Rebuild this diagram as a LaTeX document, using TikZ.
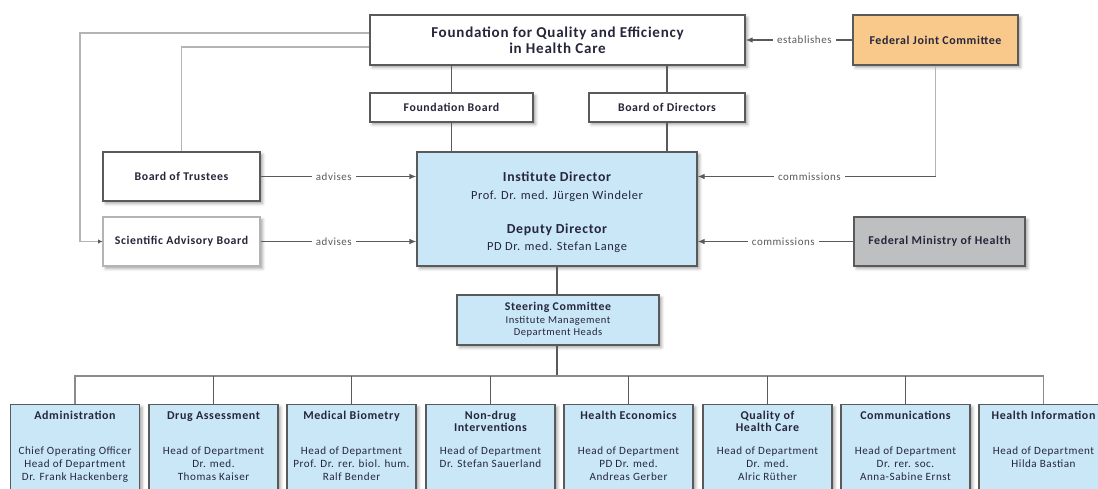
\documentclass[tikz,border=0pt]{standalone}
\usepackage{fontspec}
\setmainfont[LetterSpace=5]{Carlito}
\usetikzlibrary{arrows.meta,shadows.blur}
\definecolor{iqblue}{HTML}{C9E7F7}
\definecolor{gorange}{HTML}{F9C98B}
\definecolor{mgray}{HTML}{BEBFC1}
\definecolor{lnk}{HTML}{5A5A5A}
\definecolor{lnkl}{HTML}{B4B4B4}
\definecolor{txt}{HTML}{26263A}

\tikzset{
  box/.style={draw=lnk, line width=0.8pt, fill=white, align=center, text=txt, inner sep=2pt,
    blur shadow={shadow xshift=1.8pt, shadow yshift=-1.8pt, shadow blur radius=2pt, shadow opacity=35}},
  bluebox/.style={box, fill=iqblue},
  dept/.style={bluebox, anchor=north, minimum width=3.225cm, minimum height=2.5cm},
  depttitle/.style={anchor=north, align=center, inner sep=0pt, text=txt,
    font=\bfseries\fontsize{8.5}{8.6}\selectfont},
  deptbody/.style={anchor=north, align=center, inner sep=0pt, text=txt,
    font=\fontsize{7.9}{9.2}\selectfont},
  conn/.style={draw=lnk, line width=1.4pt},
  bus/.style={draw=lnk!70, line width=1.1pt},
  back/.style={draw=lnkl, line width=1.4pt},
  rel/.style={draw=lnk, line width=0.9pt, -{Latex[length=5pt,width=4pt]}},
  lbl/.style={fill=white, text=lnk, inner sep=3pt, font=\fontsize{7.8}{8}\selectfont},
}

% department box: name, x, title, head
\newcommand{\dept}[4]{%
  \node[dept] (#1) at (#2,404) {};
  \node[depttitle] at ([yshift=-5pt]#1.north) {#3};
  \node[deptbody] at ([yshift=-30pt]#1.north) {#4};
}

\begin{document}
\begin{tikzpicture}[x=0.025cm, y=-0.025cm]
  \useasboundingbox (0,0) rectangle (1098,488);
  \clip (0,0) rectangle (1098,488);

  % foundation and its boards
  \node[box, minimum width=9.375cm, minimum height=1.25cm,
    font=\bfseries\fontsize{10.7}{11.5}\selectfont] (found) at (557.5,40)
    {Foundation for Quality and Efficiency\\in Health Care};
  \node[box, fill=gorange, minimum width=4.125cm, minimum height=1.25cm,
    font=\bfseries\fontsize{8.5}{10}\selectfont] (gba) at (935.5,40) {Federal Joint Committee};
  \node[box, minimum width=4.075cm, minimum height=0.725cm,
    font=\bfseries\fontsize{8.4}{9}\selectfont] (fboard) at (451.5,107.5) {Foundation Board};
  \node[box, minimum width=3.9cm, minimum height=0.725cm,
    font=\bfseries\fontsize{8.4}{9}\selectfont] (bdir) at (667,107.5) {Board of Directors};

  % institute management
  \node[bluebox, minimum width=7cm, minimum height=2.85cm, font=\fontsize{8.8}{12.3}\selectfont] (inst) at (557,209)
    {\rule{0pt}{12pt}{\bfseries\fontsize{9.8}{12.3}\selectfont Institute Director}\\Prof. Dr. med. Jürgen Windeler\\[12pt]
     {\bfseries\fontsize{9.8}{12.3}\selectfont Deputy Director}\\PD Dr. med. Stefan Lange};
  \node[box, minimum width=3.925cm, minimum height=1.225cm,
    font=\bfseries\fontsize{8.4}{9}\selectfont] (trust) at (181.5,176.5) {Board of Trustees};
  \node[box, draw=lnkl, minimum width=3.925cm, minimum height=1.225cm,
    font=\bfseries\fontsize{8.4}{9}\selectfont] (sab) at (181.5,241.5) {Scientific Advisory Board};
  \node[box, fill=mgray, minimum width=4.275cm, minimum height=1.225cm,
    font=\bfseries\fontsize{8.5}{10}\selectfont] (bmg) at (939.5,241.5) {Federal Ministry of Health};
  \node[bluebox, minimum width=5.05cm, minimum height=1.25cm, font=\fontsize{7.5}{9}\selectfont] (steer) at (558,320)
    {{\bfseries\fontsize{8.4}{9}\selectfont Steering Committee}\\Institute Management\\Department Heads};

  % departments
  \dept{adm}{75}{Administration}{Chief Operating Officer\\Head of Department\\Dr. Frank Hackenberg}
  \dept{drug}{213.5}{Drug Assessment}{Head of Department\\Dr. med.\\Thomas Kaiser}
  \dept{biom}{351.5}{Medical Biometry}{Head of Department\\Prof. Dr. rer. biol. hum.\\Ralf Bender}
  \dept{ndrug}{490.5}{Non-drug\\Interventions}{Head of Department\\Dr. Stefan Sauerland}
  \dept{heco}{628.5}{Health Economics}{Head of Department\\PD Dr. med.\\Andreas Gerber}
  \dept{qual}{767.5}{Quality of\\Health Care}{Head of Department\\Dr. med.\\Alric Rüther}
  \dept{comm}{905.5}{Communications}{Head of Department\\Dr. rer. soc.\\Anna-Sabine Ernst}
  \dept{hinfo}{1043.5}{Health Information}{Head of Department\\Hilda Bastian}

  % hierarchy lines
  \draw[conn] (found.south -| fboard) -- (fboard.north);
  \draw[conn] (found.south -| bdir) -- (bdir.north);
  \draw[conn] (fboard.south) -- (inst.north -| fboard);
  \draw[conn] (bdir.south) -- (inst.north -| bdir);
  \draw[conn] (inst.south) -- (steer.north -| inst);
  \coordinate (bus) at (557,376);
  \draw[conn] (steer.south -| bus) -- (bus);
  \draw[bus] (adm.north) -- (adm.north |- bus) -- (hinfo.north |- bus) -- (hinfo.north);
  \foreach \d in {drug,biom,ndrug,heco,qual,comm}
    \draw[conn] (\d.north) -- (\d.north |- bus);

  % appointments by the foundation
  \draw[back] ([yshift=5pt]found.west) -- ++(-289,0) |- (sab.west);
  \draw[lnk, -{Latex[length=3pt,width=3pt]}] ([xshift=-2pt]sab.west) -- (sab.west);
  \draw[back] ([yshift=-5pt]found.west) -| (trust.north);

  % relations
  \draw[rel] (gba.west) -- node[lbl, pos=0.45] {establishes} (found.east);
  \draw[rel] (trust.east) -- node[lbl, pos=0.47] {advises} (inst.west |- trust.east);
  \draw[rel] (sab.east) -- node[lbl, pos=0.47] {advises} (inst.west |- sab.east);
  \draw[back, line width=1pt] (gba.south) |- (inst.east |- trust.east);
  \draw[rel] (gba.south |- trust.east) -- node[lbl, pos=0.53] {commissions} (inst.east |- trust.east);
  \draw[rel] (bmg.west) -- node[lbl, pos=0.45] {commissions} (inst.east |- bmg.west);
\end{tikzpicture}
\end{document}
